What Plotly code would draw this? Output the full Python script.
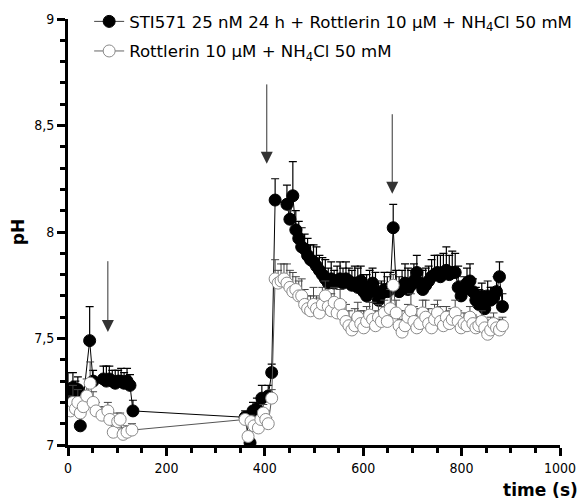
import plotly.graph_objects as go

# ---------------- data ----------------
black_t = [0, 5, 10, 15, 20, 25, 44, 51, 72, 78, 84, 90, 96, 102, 108, 114, 120, 126, 132,
           360, 370, 376, 384, 394, 407, 414,
           421, 445, 451, 457, 463, 469, 475, 481, 487, 493, 499, 505, 511, 517, 523, 529,
           535, 541, 547, 553, 559, 565, 571, 577, 583, 589, 595, 601, 607, 613, 619, 625,
           631, 637, 643, 649, 655, 661, 667, 673, 679, 685, 691, 697, 703, 709, 715, 721,
           727, 733, 739, 745, 751, 757, 763, 769, 775, 781, 787, 793, 799, 805, 811, 817,
           823, 829, 835, 841, 847, 853, 859, 865, 871, 877, 883]
black_ph = [7.26, 7.23, 7.27, 7.25, 7.26, 7.09, 7.49, 7.30, 7.31, 7.30, 7.31, 7.30, 7.29, 7.30, 7.30, 7.29, 7.30, 7.28, 7.16,
            7.13, 7.01, 7.16, 7.17, 7.22, 7.23, 7.34,
            8.15, 8.13, 8.06, 8.17, 8.01, 7.97, 7.93, 7.92, 7.89, 7.87, 7.86, 7.84, 7.82, 7.80, 7.78, 7.76,
            7.78, 7.76, 7.77, 7.78, 7.76, 7.78, 7.77, 7.75, 7.76, 7.74, 7.77, 7.72, 7.70, 7.74, 7.76, 7.72,
            7.68, 7.71, 7.73, 7.72, 7.74, 8.02, 7.74, 7.72, 7.74, 7.76, 7.73, 7.75, 7.77, 7.81, 7.76, 7.73,
            7.75, 7.77, 7.79, 7.80, 7.81, 7.79, 7.81, 7.82, 7.80, 7.81, 7.81, 7.74, 7.70, 7.73, 7.76, 7.77,
            7.72, 7.68, 7.66, 7.70, 7.64, 7.70, 7.68, 7.69, 7.72, 7.79, 7.65]
black_err = [0.08, 0.06, 0.07, 0.05, 0.06, 0.04, 0.16, 0.05, 0.06, 0.07, 0.06, 0.05, 0.06, 0.05, 0.06, 0.05, 0.06, 0.05, 0.05,
             0.03, 0.02, 0.04, 0.05, 0.06, 0.05, 0.04,
             0.10, 0.09, 0.08, 0.16, 0.09, 0.08, 0.09, 0.07, 0.08, 0.07, 0.08, 0.09, 0.07, 0.08, 0.09, 0.07,
             0.08, 0.06, 0.07, 0.08, 0.07, 0.08, 0.06, 0.07, 0.08, 0.09, 0.07, 0.08, 0.10, 0.08, 0.07, 0.09,
             0.08, 0.06, 0.08, 0.07, 0.07, 0.11, 0.08, 0.07, 0.08, 0.09, 0.10, 0.07, 0.08, 0.08, 0.06, 0.09,
             0.08, 0.07, 0.08, 0.09, 0.08, 0.10, 0.09, 0.11, 0.09, 0.10, 0.09, 0.10, 0.07, 0.06, 0.07, 0.08,
             0.06, 0.06, 0.07, 0.06, 0.05, 0.07, 0.06, 0.05, 0.07, 0.07, 0.06]

white_t = [0, 5, 10, 15, 20, 25, 31, 38, 45, 51, 57, 69, 81, 85, 92, 101, 106, 112, 120, 130,
           360, 366, 372, 378, 387, 392, 397, 402, 407, 414,
           421, 427, 433, 439, 445, 451, 457, 463, 469, 475, 481, 487, 493, 499, 505, 511,
           517, 523, 529, 535, 541, 547, 553, 559, 565, 571, 577, 583, 589, 595, 601, 607,
           613, 619, 625, 631, 637, 643, 649, 655, 661, 667, 673, 679, 685, 691, 697, 703,
           709, 715, 721, 727, 733, 739, 745, 751, 757, 763, 769, 775, 781, 787, 793, 799,
           805, 811, 817, 823, 829, 835, 841, 847, 853, 859, 865, 871, 877, 883]
white_ph = [7.18, 7.16, 7.20, 7.17, 7.20, 7.15, 7.18, 7.23, 7.29, 7.20, 7.16, 7.14, 7.16, 7.12, 7.06, 7.11, 7.12, 7.05, 7.06, 7.07,
            7.12, 7.04, 7.11, 7.09, 7.08, 7.12, 7.15, 7.12, 7.10, 7.22,
            7.78, 7.76, 7.77, 7.78, 7.76, 7.74, 7.72, 7.73, 7.70, 7.70, 7.66, 7.64, 7.63, 7.66, 7.64, 7.62,
            7.66, 7.70, 7.65, 7.63, 7.67, 7.62, 7.66, 7.61, 7.58, 7.56, 7.54, 7.56, 7.60, 7.57, 7.55, 7.58,
            7.61, 7.59, 7.56, 7.60, 7.58, 7.62, 7.58, 7.64, 7.75, 7.62, 7.56, 7.53, 7.56, 7.60, 7.63, 7.58,
            7.55, 7.57, 7.62, 7.60, 7.57, 7.55, 7.59, 7.62, 7.58, 7.56, 7.60, 7.57, 7.59, 7.62, 7.58, 7.55,
            7.57, 7.56, 7.60, 7.57, 7.55, 7.56, 7.58, 7.55, 7.52, 7.54, 7.57, 7.55, 7.54, 7.56]
white_err = [0.05, 0.06, 0.08, 0.05, 0.06, 0.05, 0.04, 0.08, 0.10, 0.05, 0.04, 0.04, 0.04, 0.03, 0.04, 0.04, 0.03, 0.03, 0.03, 0.03,
             0.02, 0.02, 0.03, 0.03, 0.03, 0.04, 0.04, 0.04, 0.03, 0.04,
             0.09, 0.06, 0.08, 0.07, 0.09, 0.08, 0.09, 0.06, 0.07, 0.08, 0.07, 0.06, 0.07, 0.08, 0.06, 0.07,
             0.08, 0.07, 0.06, 0.08, 0.07, 0.06, 0.07, 0.06, 0.08, 0.07, 0.06, 0.08, 0.07, 0.06, 0.08, 0.07,
             0.06, 0.08, 0.07, 0.06, 0.07, 0.06, 0.07, 0.09, 0.05, 0.06, 0.07, 0.06, 0.07, 0.06, 0.08, 0.07,
             0.06, 0.07, 0.06, 0.08, 0.07, 0.06, 0.07, 0.06, 0.07, 0.06, 0.05, 0.06, 0.05, 0.06, 0.05, 0.04,
             0.05, 0.04, 0.05, 0.04, 0.05, 0.04, 0.05, 0.04, 0.05, 0.06, 0.05, 0.04, 0.05, 0.04]

black_name = "STI571 25 nM 24 h + Rottlerin 10 µM + NH<sub>4</sub>Cl 50 mM"
white_name = "Rottlerin 10 µM + NH<sub>4</sub>Cl 50 mM"

# addition arrows: time (s), tail pH, tip pH
arrow_t = [81, 404, 659]
arrow_tail_ph = [7.87, 8.70, 8.56]
arrow_tip_ph = [7.53, 8.32, 8.18]

x_tickvals = [0, 200, 400, 600, 800, 1000]
x_ticktext = ["0", "200", "400", "600", "800", "1000"]
y_tickvals = [7, 7.5, 8, 8.5, 9]
y_ticktext = ["7", "7,5", "8", "8,5", "9"]

# ---------------- figure ----------------
FONT = "DejaVu Sans"
TICKFONT = "DejaVu Sans Condensed, DejaVu Sans"
fig = go.Figure()

black_marker = dict(symbol="circle", size=12, color="black", line=dict(color="black", width=1))
white_marker = dict(symbol="circle", size=12, color="white", line=dict(color="#8a8a8a", width=1))

fig.add_trace(go.Scatter(
    x=black_t, y=black_ph, mode="lines+markers", name=black_name, showlegend=False,
    line=dict(color="black", width=1), marker=black_marker,
    error_y=dict(type="data", symmetric=False, array=black_err,
                 arrayminus=[0] * len(black_err), color="black", thickness=1.2, width=4),
))
fig.add_trace(go.Scatter(
    x=white_t, y=white_ph, mode="lines+markers", name=white_name, showlegend=False,
    line=dict(color="#555555", width=1), marker=white_marker,
    error_y=dict(type="data", symmetric=False, array=white_err,
                 arrayminus=[0] * len(white_err), color="#444444", thickness=1, width=4),
))
# legend entries (without error bars)
fig.add_trace(go.Scatter(x=[None], y=[None], mode="lines+markers", name=black_name,
                         legendgroup="a", line=dict(color="#444444", width=1), marker=black_marker))
fig.add_trace(go.Scatter(x=[None], y=[None], mode="lines+markers", name=white_name,
                         legendgroup="b", line=dict(color="#666666", width=1), marker=white_marker))

for t, ta, tp in zip(arrow_t, arrow_tail_ph, arrow_tip_ph):
    fig.add_annotation(x=t, y=tp, ax=t, ay=ta, xref="x", yref="y", axref="x", ayref="y",
                       text="", showarrow=True, arrowhead=2, arrowsize=2.4,
                       arrowwidth=1, arrowcolor="#333333")

fig.add_annotation(text="<b>time (s)</b>", xref="paper", yref="paper",
                   x=1.04, y=-0.105, xanchor="right", yanchor="middle", showarrow=False,
                   font=dict(family=FONT, size=17, color="black"))

# the page adds an 8-px body margin, so the figure is 8 px smaller and shifted
fig.update_layout(
    width=578, height=493,
    margin=dict(l=60, r=26, t=11, b=56, autoexpand=False),
    paper_bgcolor="white", plot_bgcolor="white",
    font=dict(family=FONT, size=13, color="black"),
    showlegend=True,
    legend=dict(x=0.043, y=1.035, xanchor="left", yanchor="top",
                bgcolor="rgba(0,0,0,0)", font=dict(family=FONT, size=16.6),
                traceorder="grouped", tracegroupgap=5),
    xaxis=dict(range=[0, 1000], showgrid=False, zeroline=False,
               showline=True, linecolor="black", linewidth=3,
               tickvals=x_tickvals, ticktext=x_ticktext,
               ticks="outside", ticklen=8, tickwidth=3, tickcolor="black",
               minor=dict(dtick=50, tick0=0, ticks="outside", ticklen=5, tickwidth=3, tickcolor="black"),
               tickfont=dict(family=TICKFONT, size=14)),
    yaxis=dict(range=[7, 9], showgrid=False, zeroline=False,
               showline=True, linecolor="black", linewidth=3,
               tickvals=y_tickvals, ticktext=y_ticktext,
               ticks="outside", ticklen=8, tickwidth=3, tickcolor="black",
               minor=dict(dtick=0.1, tick0=7, ticks="outside", ticklen=5, tickwidth=3, tickcolor="black"),
               tickfont=dict(family=TICKFONT, size=14),
               title=dict(text="<b>pH</b>", font=dict(family=FONT, size=17), standoff=9)),
)

fig.write_html("out.html")
